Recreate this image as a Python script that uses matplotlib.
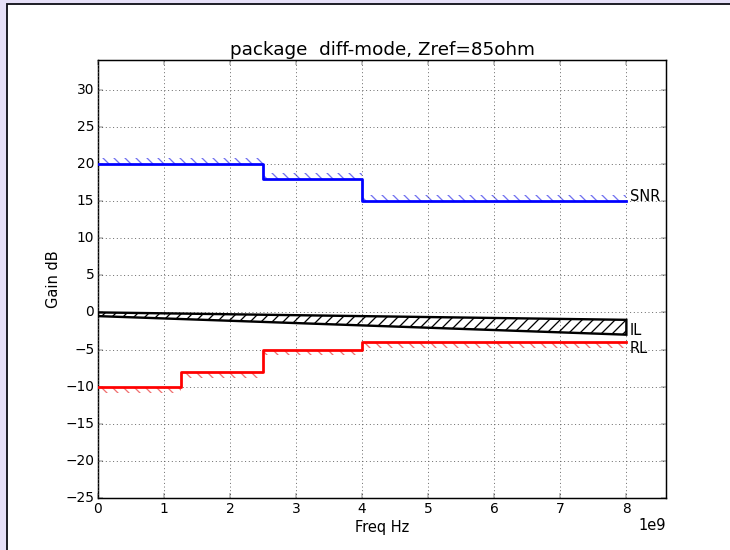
import matplotlib
matplotlib.use("Agg")
import matplotlib.pyplot as plt
from matplotlib.patches import Rectangle

# package diff-mode limits vs. frequency
snr_edges = [0.0, 2.5e9, 4.0e9, 8.0e9]
snr_limit = [20, 18, 15]

rl_edges = [0.0, 1.25e9, 2.5e9, 4.0e9, 8.0e9]
rl_limit = [-10, -8, -5, -4]

il_freq = [0.0, 8.0e9]
il_upper = [0.0, -1.0]
il_lower = [-0.5, -3.0]

HATCH_DEPTH = 0.8
DPI = 66

plt.style.use("classic")
plt.rcParams["font.family"] = ["DejaVu Sans"]
plt.rcParams["font.size"] = 15
plt.rcParams["hatch.linewidth"] = 1.4
plt.rcParams["axes.linewidth"] = 1.6
plt.rcParams["xtick.major.size"] = 5
plt.rcParams["ytick.major.size"] = 5

fig = plt.figure(figsize=(730 / DPI, 550 / DPI), dpi=DPI, facecolor="#e6e0f8")
fig.patches.append(Rectangle((7 / 730, -0.05), 1.1, (546 / 550) + 0.05,
                             transform=fig.transFigure, facecolor="white",
                             edgecolor="#101018", linewidth=2.0, zorder=-10))
ax = fig.add_axes([98 / 730, 52 / 550, 568 / 730, 438 / 550])


def limit_steps(ax, edges, values, color, hatch_color, above):
    ax.step(edges, list(values) + [values[-1]], where="post", color=color,
            linewidth=3.0, zorder=3)
    for x0, x1, v in zip(edges[:-1], edges[1:], values):
        other = v + HATCH_DEPTH if above else v - HATCH_DEPTH
        ax.fill_between([x0, x1], [v, v], [other, other], facecolor="none",
                        edgecolor=hatch_color, linewidth=0, hatch="\\\\", zorder=2)


limit_steps(ax, snr_edges, snr_limit, "#0000ff", "#7070f0", above=True)
limit_steps(ax, rl_edges, rl_limit, "#ff0000", "#f07070", above=False)

# insertion-loss window
ax.fill(il_freq + il_freq[::-1], il_upper + il_lower[::-1], facecolor="none",
        edgecolor="black", linewidth=2.6, hatch="//", zorder=3)

ax.text(8.05e9, snr_limit[-1], "SNR", fontsize=16)
ax.text(8.05e9, il_lower[-1], "IL", fontsize=16)
ax.text(8.05e9, rl_limit[-1] - 1.5, "RL", fontsize=16)

ax.set_xlim(0, 8.6e9)
ax.set_ylim(-25, 34)
ax.set_yticks(range(-25, 31, 5))
ax.set_xticks([i * 1e9 for i in range(9)])
ax.xaxis.get_offset_text().set_fontsize(16)
ax.grid(True, linestyle=":", color="#555555", linewidth=1.0)
ax.set_title("package  diff-mode, Zref=85ohm", fontsize=20)
ax.set_xlabel("Freq Hz", fontsize=16)
ax.set_ylabel("Gain dB", fontsize=16)

fig.savefig("out.png", dpi=DPI, facecolor=fig.get_facecolor())
